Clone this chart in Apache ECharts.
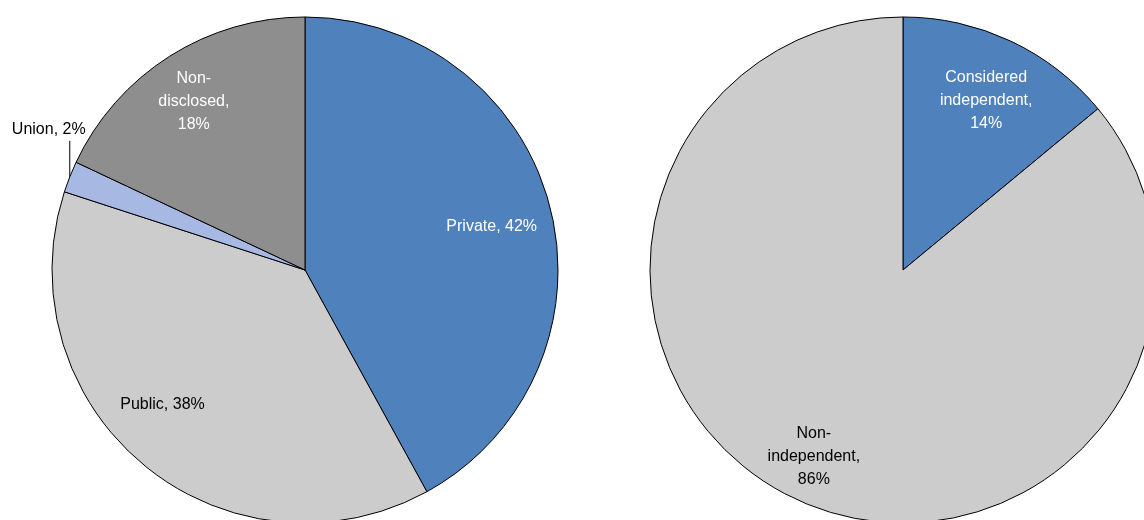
<!DOCTYPE html>
<html>
<head>
<meta charset="utf-8">
<script src="https://cdn.jsdelivr.net/npm/echarts@6/dist/echarts.min.js"></script>
<style>
html,body{margin:0;padding:0;background:#fff;}
#chart{width:1144px;height:520px;}
</style>
</head>
<body>
<div id="chart"></div>
<script>
// Left pie: ownership
const leftCategories = ['Private', 'Public', 'Union', 'Non-disclosed'];
const leftValues = [42, 38, 2, 18];
const leftLabels = ['Private, 42%', 'Public, 38%', 'Union, 2%', 'Non-\ndisclosed,\n18%'];

// Right pie: independence
const rightCategories = ['Considered independent', 'Non-independent'];
const rightValues = [14, 86];
const rightLabels = ['Considered\nindependent,\n14%', 'Non-\nindependent,\n86%'];

// styles (kept separate from data)
const leftColors = ['#4F81BD', '#CCCCCC', '#A7B9E3', '#8E8E8E'];
const leftLabelColors = ['#ffffff', '#000000', '#000000', '#ffffff'];
const rightColors = ['#4F81BD', '#CCCCCC'];
const rightLabelColors = ['#ffffff', '#000000'];
const leftOffsets = [[-7, 6], [-15, -20], [0, 0], [-4, 0]];
const rightOffsets = [[-2, 12], [-4, 6]];

const FONT = '"Liberation Sans", Arial, sans-serif';
const FS = 16;
const R = 253;
const LABEL_R = 394;

function mainData(cats, vals, colors) {
  return cats.map((c, i) => ({ name: c, value: vals[i], itemStyle: { color: colors[i] } }));
}
function overlayData(cats, vals, labels, lcolors, offsets, skip) {
  return cats.map((c, i) => ({
    name: c, value: vals[i],
    label: { show: skip.indexOf(i) < 0, formatter: labels[i], color: lcolors[i], offset: offsets[i] }
  }));
}

const chart = echarts.init(document.getElementById('chart'), null, { renderer: 'canvas' });

const baseMain = {
  type: 'pie', startAngle: 90, clockwise: true, radius: [0, R],
  avoidLabelOverlap: false, silent: true, animation: false,
  itemStyle: { borderColor: '#000', borderWidth: 1 },
  emphasis: { disabled: true }
};
const baseOverlay = {
  type: 'pie', startAngle: 90, clockwise: true, radius: [0, LABEL_R],
  avoidLabelOverlap: false, silent: true, animation: false, z: 5,
  itemStyle: { color: 'rgba(0,0,0,0)', borderWidth: 0 },
  label: { position: 'inside', fontFamily: FONT, fontSize: FS, lineHeight: 23, align: 'center' },
  labelLine: { show: false },
  emphasis: { disabled: true }
};

const unionIndex = leftCategories.indexOf('Union');

chart.setOption({
  animation: false,
  series: [
    Object.assign({}, baseMain, {
      center: [305, 270],
      data: mainData(leftCategories, leftValues, leftColors).map((d, i) => {
        if (i === unionIndex) {
          d.label = { show: true, position: 'outside', formatter: leftLabels[i], color: '#000',
                      fontFamily: FONT, fontSize: FS };
          d.labelLine = { show: true, length: 10, length2: 10, lineStyle: { color: '#000', width: 1 } };
        } else {
          d.label = { show: false };
          d.labelLine = { show: false };
        }
        return d;
      }),
      labelLayout: function (params) {
        if (params.dataIndex !== unionIndex || !params.labelLinePoints) return {};
        const s = params.labelLinePoints[0];
        const top = [s[0], s[1] - 36];
        return {
          x: s[0] - 21, y: top[1] - 11,
          align: 'center', verticalAlign: 'middle',
          labelLinePoints: [s, top, top]
        };
      }
    }),
    Object.assign({}, baseOverlay, {
      center: [305, 270],
      data: overlayData(leftCategories, leftValues, leftLabels, leftLabelColors, leftOffsets, [unionIndex])
    }),
    Object.assign({}, baseMain, {
      center: [903, 270],
      label: { show: false }, labelLine: { show: false },
      data: mainData(rightCategories, rightValues, rightColors)
    }),
    Object.assign({}, baseOverlay, {
      center: [903, 270],
      data: overlayData(rightCategories, rightValues, rightLabels, rightLabelColors, rightOffsets, [])
    })
  ]
});
</script>
</body>
</html>
